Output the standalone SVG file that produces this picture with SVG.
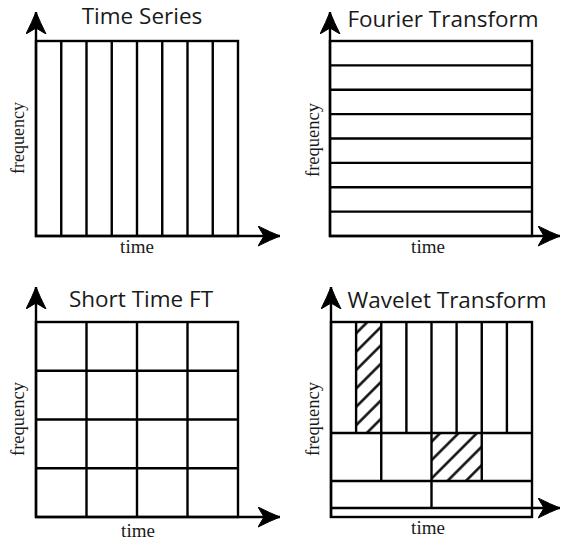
<svg xmlns="http://www.w3.org/2000/svg" width="562" height="541" viewBox="0 0 562 541">
<style>
.grid{fill:none;stroke:#000;stroke-width:2.4}
.axis{fill:none;stroke:#000;stroke-width:2.4}
.title{font-family:"Open Sans","Noto Sans",sans-serif;font-size:22.5px;fill:#1a1a1a;text-anchor:middle}
.lab{font-family:"Liberation Serif","Times New Roman",serif;font-size:19px;fill:#1a1a1a;text-anchor:middle}
</style>
<defs>
<marker id="arr" markerUnits="userSpaceOnUse" markerWidth="26" markerHeight="22" refX="22" refY="10" orient="auto" viewBox="0 0 26 22">
<path d="M0,0 Q12,6 22,10 Q12,14 0,20 L6,10 Z" fill="#000" stroke="#000" stroke-width="1" stroke-linejoin="round"/>
</marker>
<pattern id="hatch" patternUnits="userSpaceOnUse" width="13" height="13" patternTransform="rotate(45)">
<line x1="6.5" y1="-1" x2="6.5" y2="14" stroke="#000" stroke-width="2.4"/>
</pattern>
</defs>
<rect width="562" height="541" fill="#fff"/>

<g id="panel-time-series">
<text class="title" x="142" y="24">Time Series</text>
<rect class="grid" x="36" y="41" width="202" height="195"/>
<path class="grid" d="M61.25,41V236M86.5,41V236M111.75,41V236M137,41V236M162.25,41V236M187.5,41V236M212.75,41V236"/>
<text class="lab" x="137" y="253">time</text>
<text class="lab" style="font-size:18px" transform="translate(24,138) rotate(-90)" textLength="72" lengthAdjust="spacingAndGlyphs">frequency</text>
</g>

<g id="panel-fourier">
<text class="title" x="443" y="27">Fourier Transform</text>
<rect class="grid" x="330" y="41" width="202" height="195"/>
<path class="grid" d="M330,65.4H532M330,89.75H532M330,114.1H532M330,138.5H532M330,162.9H532M330,187.25H532M330,211.6H532"/>
<text class="lab" x="428" y="253">time</text>
<text class="lab" style="font-size:18px" transform="translate(319,140) rotate(-90)" textLength="74" lengthAdjust="spacingAndGlyphs">frequency</text>
</g>

<g id="panel-stft">
<text class="title" x="141" y="307">Short Time FT</text>
<rect class="grid" x="36" y="322" width="202" height="195"/>
<path class="grid" d="M86.5,322V517M137,322V517M187.5,322V517M36,370.75H238M36,419.5H238M36,468.25H238"/>
<text class="lab" x="138" y="537">time</text>
<text class="lab" style="font-size:18px" transform="translate(24,419) rotate(-90)" textLength="74" lengthAdjust="spacingAndGlyphs">frequency</text>
</g>

<g id="panel-wavelet">
<text class="title" x="447" y="308">Wavelet Transform</text>
<rect x="356.1" y="322" width="25.15" height="111" fill="url(#hatch)"/>
<rect x="431.5" y="433" width="50.25" height="48" fill="url(#hatch)"/>
<rect class="grid" x="331" y="322" width="201" height="195"/>
<path class="grid" d="M356.1,322V433M381.25,322V433M406.4,322V433M431.5,322V433M456.6,322V433M481.75,322V433M506.9,322V433M331,433H532M381.25,433V481M431.5,433V481M481.75,433V481M331,481H532M431.5,481V508"/>
<text class="lab" x="428" y="534">time</text>
<text class="lab" style="font-size:18px" transform="translate(319,419) rotate(-90)" textLength="74" lengthAdjust="spacingAndGlyphs">frequency</text>
</g>

<g id="connectors">
<line class="axis" x1="36" y1="237" x2="36" y2="12" marker-end="url(#arr)"/>
<line class="axis" x1="35" y1="236" x2="280" y2="236" marker-end="url(#arr)"/>
<line class="axis" x1="330" y1="237" x2="330" y2="12" marker-end="url(#arr)"/>
<line class="axis" x1="329" y1="236" x2="560" y2="236" marker-end="url(#arr)"/>
<line class="axis" x1="36" y1="518" x2="36" y2="287" marker-end="url(#arr)"/>
<line class="axis" x1="35" y1="517" x2="280" y2="517" marker-end="url(#arr)"/>
<line class="axis" x1="331" y1="518" x2="331" y2="287" marker-end="url(#arr)"/>
<line class="axis" x1="330" y1="508" x2="560" y2="508" marker-end="url(#arr)"/>
</g>
</svg>
